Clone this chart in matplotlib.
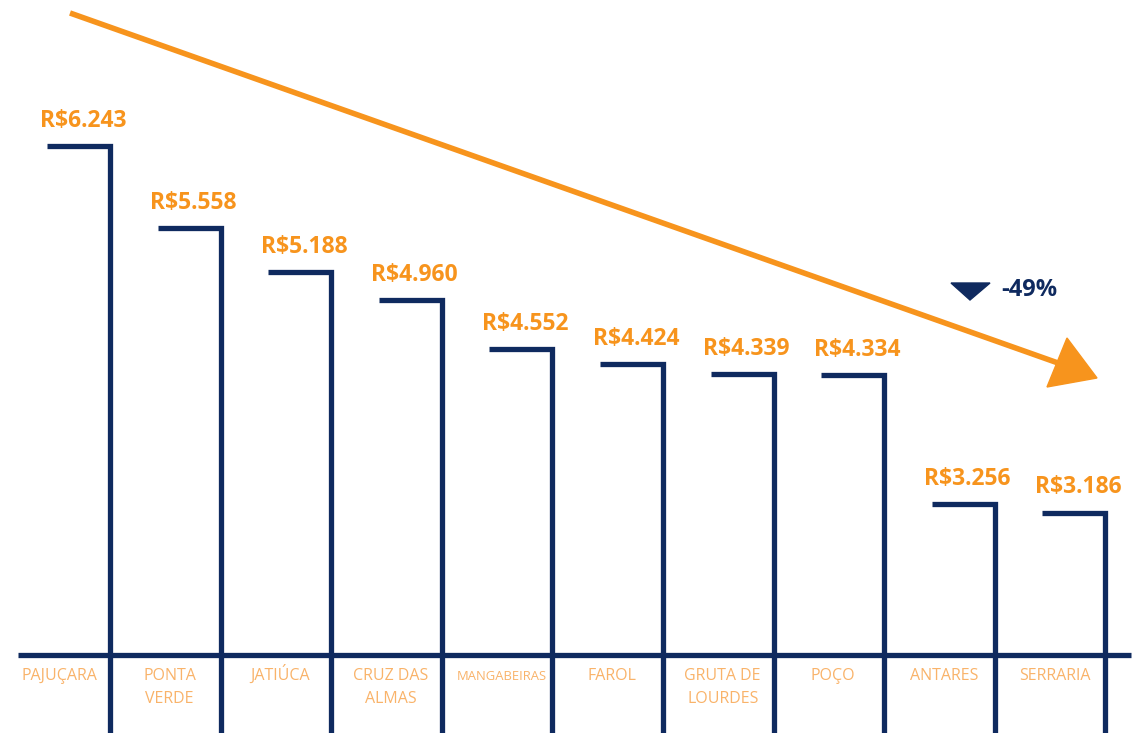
import matplotlib
matplotlib.use("Agg")
import matplotlib.pyplot as plt
from matplotlib.patches import Polygon

# data
bairros = ["PAJUÇARA", "PONTA\nVERDE", "JATIÚCA", "CRUZ DAS\nALMAS", "MANGABEIRAS",
           "FAROL", "GRUTA DE\nLOURDES", "POÇO", "ANTARES", "SERRARIA"]
valores = [6243, 5558, 5188, 4960, 4552, 4424, 4339, 4334, 3256, 3186]
variacao = "-49%"

NAVY = "#0f2a5f"
ORANGE = "#f7941d"
LIGHT_ORANGE = "#f9b36a"

W, H = 1138, 733
fig = plt.figure(figsize=(W / 100, H / 100), dpi=100)
ax = fig.add_axes([0, 0, 1, 1])
ax.set_axis_off()

# scale: baseline value 2000, about 0.12 px per R$
base = 2000
ax.set_xlim(-0.4946, 9.795)
ax.set_ylim(1350, 7458)


def px(x, y):
    # pixel position (from top-left) -> axes fraction
    return x / W, 1 - y / H


# baseline
ax.plot([-0.33, 9.73], [base, base], color=NAVY, lw=3.8, solid_capstyle="butt", zorder=3)

top_w = 0.57
for i, (nome, v) in enumerate(zip(bairros, valores)):
    xr = i + 0.5
    ax.plot([xr - top_w, xr, xr], [v, v, 1350], color=NAVY, lw=3.8,
            solid_capstyle="butt", solid_joinstyle="miter", zorder=3)
    ax.text(xr - top_w / 2 + 0.04, v + 110, "R$" + f"{v:,}".replace(",", "."),
            ha="center", va="bottom", color=ORANGE, fontsize=16.5,
            fontweight="bold", family="Open Sans")
    fs = 9.4 if nome == "MANGABEIRAS" else 11.5
    # one text per line, placed on baselines
    for k, linha in enumerate(nome.split("\n")):
        ax.text(i + 0.04, base - 205 - k * 195, linha, ha="center", va="baseline",
                color=LIGHT_ORANGE, fontsize=fs, family="Open Sans")

# big trend arrow
ax.plot(*zip(px(70, 13), px(1058, 363)), transform=ax.transAxes,
        color=ORANGE, lw=4, solid_capstyle="butt", zorder=4)
ax.add_patch(Polygon([px(1067, 338), px(1097, 378), px(1047, 387)], closed=True,
                     transform=ax.transAxes, color=ORANGE, zorder=4))

# variation marker
ax.add_patch(Polygon([px(951, 283), px(990, 283), px(970, 300)], closed=True,
                     transform=ax.transAxes, color=NAVY, zorder=4))
ax.text(*px(1001, 290), variacao, transform=ax.transAxes, ha="left", va="center",
        color=NAVY, fontsize=17, fontweight="bold", family="Open Sans")

fig.savefig("out.png", dpi=100)
